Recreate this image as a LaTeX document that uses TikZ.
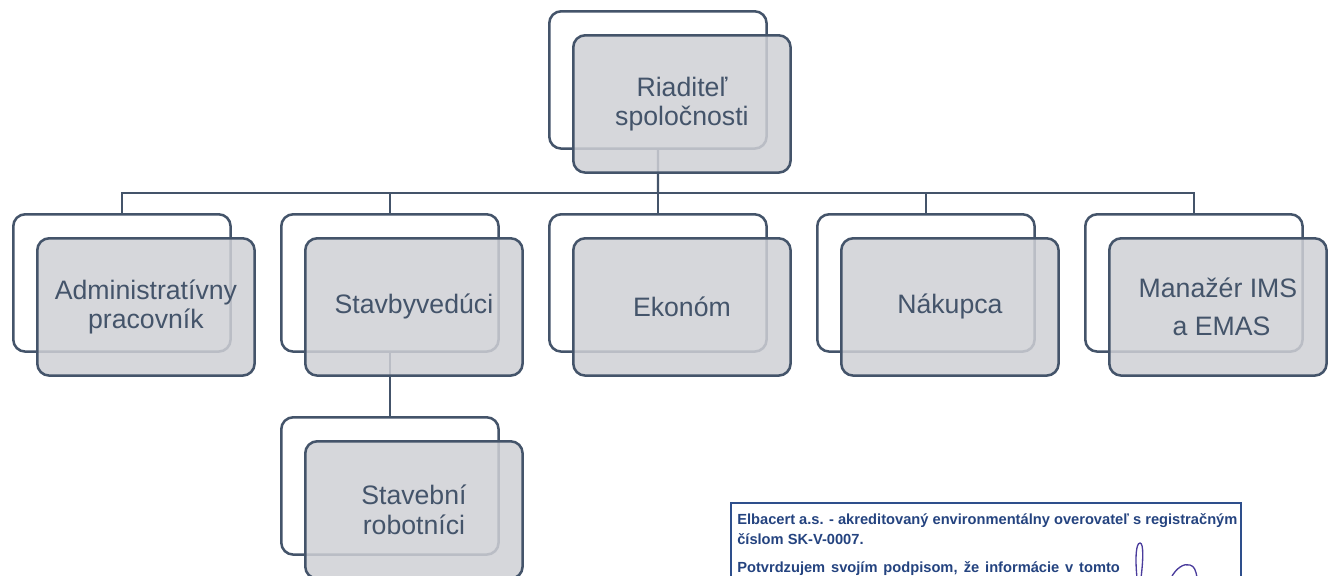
\documentclass[tikz,border=0pt]{standalone}
\usepackage{fontspec}
\setmainfont{Liberation Sans}
\definecolor{outl}{HTML}{44546A}
\definecolor{boxfill}{HTML}{CFD0D5}
\definecolor{certblue}{HTML}{2E4F8C}
\definecolor{certtext}{HTML}{24437F}
\definecolor{signink}{HTML}{4A3C9C}
\begin{document}
\begin{tikzpicture}[x=0.75pt,y=-0.75pt,
  backbox/.style={draw=outl,line width=1.9pt,rounded corners=9pt,fill=white,
    minimum width=163pt,minimum height=103pt,inner sep=0pt,anchor=north west},
  frontbox/.style={draw=outl,line width=1.9pt,rounded corners=9pt,fill=boxfill,
    fill opacity=0.85,draw opacity=1,text opacity=1,text=outl,
    minimum width=163pt,minimum height=103pt,inner sep=0pt,anchor=north west,
    align=center,font=\fontsize{20}{22}\selectfont},
  conn/.style={draw=outl,line width=1.6pt}]
\useasboundingbox (0,0) rectangle (1332,575);
\clip (0,0) rectangle (1332,575);
% back boxes
\node[backbox] (b0) at (548,10) {};
\node[backbox] (b1) at (12,213) {};
\node[backbox] (b2) at (280,213) {};
\node[backbox] (b3) at (548,213) {};
\node[backbox] (b4) at (816,213) {};
\node[backbox] (b5) at (1084,213) {};
\node[backbox] (b6) at (280,416) {};
% connectors
\coordinate (hub) at (658,193);
\draw[conn] (b0.south) -- (hub);
\draw[conn] (b1.north) |- (hub);
\draw[conn] (b5.north) |- (hub);
\draw[conn] (b2.north) -- (b2.north |- hub);
\draw[conn] (b3.north) -- (b3.north |- hub);
\draw[conn] (b4.north) -- (b4.north |- hub);
\draw[conn] (b2.south) -- (b6.north);
% front boxes
\node[frontbox] (f0) at (572,34) {Riaditeľ\\spoločnosti};
\node[frontbox] (f1) at (36,237) {Administratívny\\pracovník};
\node[frontbox] (f2) at (304,237) {Stavbyvedúci};
\node[frontbox] (f3) at (572,237) {Ekonóm};
\node[frontbox] (f4) at (840,237) {Nákupca};
\node[frontbox] (f5) at (1108,237) {Manažér IMS\\[7pt]\ a EMAS};
\node[frontbox] (f6) at (304,440) {Stavební\\robotníci};
% certification box
\draw[certblue,line width=2.2pt] (731,640) -- (731,503) -- (1241,503) -- (1241,640);
\node[anchor=north west,inner sep=0pt,text=certtext,align=left,
  font=\bfseries\fontsize{11}{15}\selectfont] (cert) at (737,513)
  {Elbacert a.s. - akreditovaný environmentálny overovateľ s registračným\\
   číslom SK-V-0007.\\[6pt]
   \makebox[287pt][s]{Potvrdzujem svojím podpisom, že informácie v tomto}};
% signature
\draw[signink,line width=1pt,line cap=round]
  (1137,578) .. controls (1135,558) and (1136,543) .. (1140,543)
  .. controls (1144,543) and (1143,562) .. (1141,578);
\draw[signink,line width=1pt,line cap=round]
  (1171,578) .. controls (1176,568) and (1184,563) .. (1190,565)
  .. controls (1194,566) and (1196,570) .. (1197,578);
\end{tikzpicture}
\end{document}
